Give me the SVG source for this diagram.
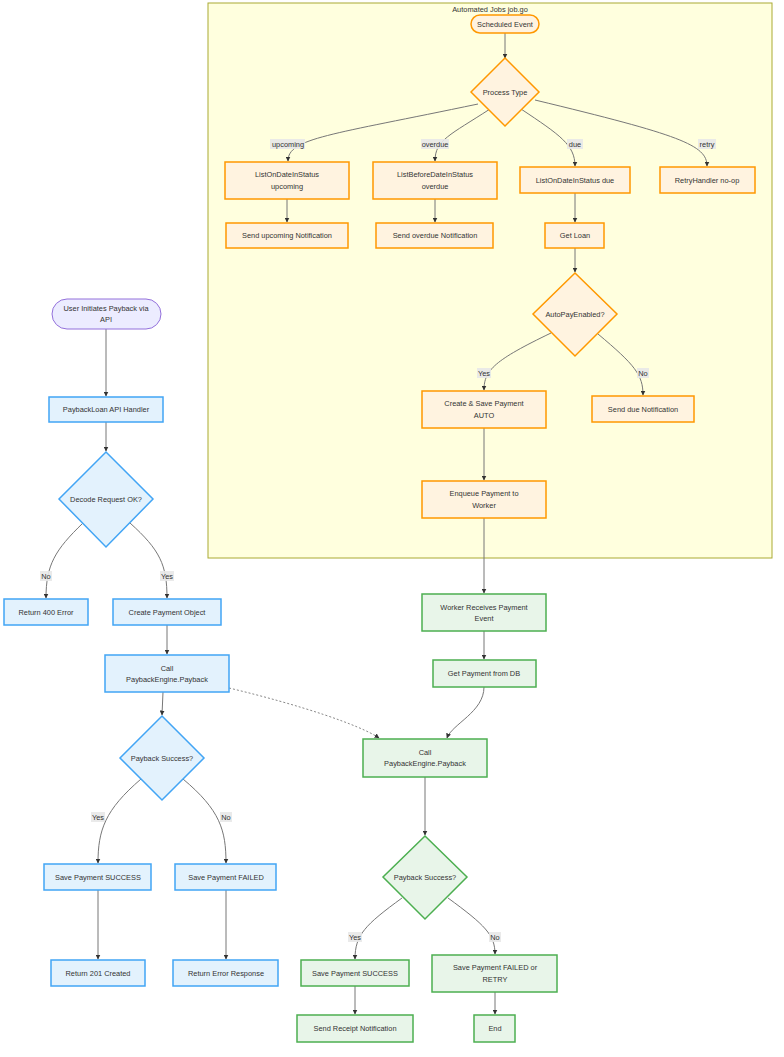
<svg xmlns="http://www.w3.org/2000/svg" width="784" height="1057" viewBox="0 0 784 1057">
<defs>
<marker id="arr" viewBox="0 0 10 10" refX="9" refY="5" markerWidth="5" markerHeight="5" markerUnits="userSpaceOnUse" orient="auto">
<path d="M0,0 L10,5 L0,10 z" fill="#333"/>
</marker>
<style>
text{font-family:"Liberation Sans",Arial,sans-serif;font-size:7.4px;fill:#333;text-anchor:middle;dominant-baseline:central}
.o{fill:#FFF3E0;stroke:#FF9800;stroke-width:1.5}
.b{fill:#E3F2FD;stroke:#42A5F5;stroke-width:1.5}
.g{fill:#E8F5E9;stroke:#4CAF50;stroke-width:1.5}
.p{fill:#ECECFF;stroke:#9370DB;stroke-width:1}
.e{fill:none;stroke:#777;stroke-width:1;marker-end:url(#arr)}
.d{fill:none;stroke:#888;stroke-width:1;stroke-dasharray:2,2;marker-end:url(#arr)}
.lb{fill:#e8e8e8;opacity:0.9}
</style>
</defs>
<rect width="784" height="1057" fill="#ffffff"/>
<g id="cluster">
<rect x="208" y="3" width="564" height="555" fill="#ffffde" stroke="#aaaa33" stroke-width="1"/>
<text x="490" y="9.5">Automated Jobs job.go</text>
</g>
<g id="connectors">
<path class="e" d="M505,33 L505,58"/>
<path class="e" d="M478,104 C330,135 288,138 288,161"/>
<path class="e" d="M490,109 C450,135 435,140 435,161"/>
<path class="e" d="M521,109 C560,135 575,145 575,166"/>
<path class="e" d="M535,100 C680,135 707,145 707,166"/>
<path class="e" d="M287,199 L287,222"/>
<path class="e" d="M435,199 L435,222"/>
<path class="e" d="M575,193 L575,222"/>
<path class="e" d="M575,248 L575,272"/>
<path class="e" d="M551,333 C495,360 484,370 484,390"/>
<path class="e" d="M598,334 C635,365 643,375 643,395"/>
<path class="e" d="M484,428 L484,480"/>
<path class="e" d="M484,518 L484,593"/>
<path class="e" d="M484,631 L484,659"/>
<path class="e" d="M484,687 C484,712 452,724 447,738"/>
<path class="d" d="M229,688 C300,705 360,725 379,738"/>
<path class="e" d="M425,777 L425,835"/>
<path class="e" d="M402,898 C365,925 355,935 355,959"/>
<path class="e" d="M448,898 C485,925 495,935 495,954"/>
<path class="e" d="M355,986 L355,1014"/>
<path class="e" d="M495,992 L495,1014"/>
<path class="e" d="M106,329 L106,396"/>
<path class="e" d="M106,422 L106,451"/>
<path class="e" d="M83,523 C55,550 46,565 46,598"/>
<path class="e" d="M130,523 C160,550 167,565 167,598"/>
<path class="e" d="M167,625 L167,654"/>
<path class="e" d="M163,692 L162,715"/>
<path class="e" d="M141,779 C105,810 98,830 98,863"/>
<path class="e" d="M183,779 C220,810 226,830 226,863"/>
<path class="e" d="M98,890 L98,959"/>
<path class="e" d="M226,890 L226,959"/>
</g>
<g id="edge-labels">
<rect class="lb" x="270" y="139" width="35" height="10"/><text x="288" y="144">upcoming</text>
<rect class="lb" x="421" y="139" width="28" height="10"/><text x="435" y="144">overdue</text>
<rect class="lb" x="567" y="139" width="16" height="10"/><text x="575" y="144">due</text>
<rect class="lb" x="698" y="139" width="18" height="10"/><text x="707" y="144">retry</text>
<rect class="lb" x="477" y="368" width="14" height="10"/><text x="484" y="373">Yes</text>
<rect class="lb" x="637" y="368" width="12" height="10"/><text x="643" y="373">No</text>
<rect class="lb" x="40" y="571" width="12" height="10"/><text x="46" y="576">No</text>
<rect class="lb" x="160" y="571" width="14" height="10"/><text x="167" y="576">Yes</text>
<rect class="lb" x="91" y="812" width="14" height="10"/><text x="98" y="817">Yes</text>
<rect class="lb" x="220" y="812" width="12" height="10"/><text x="226" y="817">No</text>
<rect class="lb" x="348" y="932" width="14" height="10"/><text x="355" y="937">Yes</text>
<rect class="lb" x="489" y="932" width="12" height="10"/><text x="495" y="937">No</text>
</g>
<g id="n-scheduled"><rect class="o" x="471" y="15" width="68" height="18" rx="9"/><text x="505" y="24">Scheduled Event</text></g>
<g id="n-processtype"><polygon class="o" points="505,58 539,92 505,126 471,92"/><text x="505" y="92">Process Type</text></g>
<g id="n-upcoming"><rect class="o" x="225" y="162" width="124" height="37"/><text x="287" y="174">ListOnDateInStatus</text><text x="287" y="186">upcoming</text></g>
<g id="n-sendupcoming"><rect class="o" x="226" y="223" width="122" height="25"/><text x="287" y="235.5">Send upcoming Notification</text></g>
<g id="n-overdue"><rect class="o" x="373" y="162" width="124" height="37"/><text x="435" y="174">ListBeforeDateInStatus</text><text x="435" y="186">overdue</text></g>
<g id="n-sendoverdue"><rect class="o" x="376" y="223" width="117" height="25"/><text x="435" y="235.5">Send overdue Notification</text></g>
<g id="n-due"><rect class="o" x="520" y="167" width="110" height="26"/><text x="575" y="180">ListOnDateInStatus due</text></g>
<g id="n-retry"><rect class="o" x="660" y="167" width="95" height="26"/><text x="707" y="180">RetryHandler no-op</text></g>
<g id="n-getloan"><rect class="o" x="545" y="223" width="59" height="25"/><text x="575" y="235.5">Get Loan</text></g>
<g id="n-autopay"><polygon class="o" points="575,273 617,314 575,356 533,314"/><text x="575" y="314">AutoPayEnabled?</text></g>
<g id="n-createauto"><rect class="o" x="422" y="391" width="124" height="37"/><text x="484" y="403">Create &amp; Save Payment</text><text x="484" y="415">AUTO</text></g>
<g id="n-senddue"><rect class="o" x="592" y="396" width="102" height="26"/><text x="643" y="409">Send due Notification</text></g>
<g id="n-enqueue"><rect class="o" x="422" y="481" width="124" height="37"/><text x="484" y="493">Enqueue Payment to</text><text x="484" y="505">Worker</text></g>
<g id="n-user"><rect class="p" x="52" y="299" width="109" height="30" rx="15"/><text x="106" y="308">User Initiates Payback via</text><text x="106" y="319.5">API</text></g>
<g id="n-handler"><rect class="b" x="49" y="397" width="114" height="25"/><text x="106" y="409.5">PaybackLoan API Handler</text></g>
<g id="n-decode"><polygon class="b" points="106,452 153,499 106,547 59,499"/><text x="106" y="499">Decode Request OK?</text></g>
<g id="n-ret400"><rect class="b" x="4" y="599" width="84" height="26"/><text x="46" y="612">Return 400 Error</text></g>
<g id="n-createobj"><rect class="b" x="113" y="599" width="108" height="26"/><text x="167" y="612">Create Payment Object</text></g>
<g id="n-callleft"><rect class="b" x="105" y="655" width="124" height="37"/><text x="167" y="668">Call</text><text x="167" y="679">PaybackEngine.Payback</text></g>
<g id="n-successleft"><polygon class="b" points="162,716 204,758 162,800 120,758"/><text x="162" y="758">Payback Success?</text></g>
<g id="n-saveokleft"><rect class="b" x="44" y="864" width="107" height="26"/><text x="98" y="877">Save Payment SUCCESS</text></g>
<g id="n-savefailleft"><rect class="b" x="175" y="864" width="101" height="26"/><text x="226" y="877">Save Payment FAILED</text></g>
<g id="n-ret201"><rect class="b" x="51" y="960" width="94" height="26"/><text x="98" y="973">Return 201 Created</text></g>
<g id="n-reterr"><rect class="b" x="173" y="960" width="105" height="26"/><text x="226" y="973">Return Error Response</text></g>
<g id="n-worker"><rect class="g" x="422" y="594" width="124" height="37"/><text x="484" y="607">Worker Receives Payment</text><text x="484" y="618">Event</text></g>
<g id="n-getpay"><rect class="g" x="433" y="660" width="103" height="27"/><text x="484" y="673.5">Get Payment from DB</text></g>
<g id="n-callgreen"><rect class="g" x="363" y="739" width="124" height="38"/><text x="425" y="752">Call</text><text x="425" y="763">PaybackEngine.Payback</text></g>
<g id="n-successgreen"><polygon class="g" points="425,836 467,877 425,919 383,877"/><text x="425" y="877">Payback Success?</text></g>
<g id="n-saveokgreen"><rect class="g" x="301" y="960" width="108" height="26"/><text x="355" y="973">Save Payment SUCCESS</text></g>
<g id="n-savefailgreen"><rect class="g" x="432" y="955" width="125" height="37"/><text x="495" y="967">Save Payment FAILED or</text><text x="495" y="979">RETRY</text></g>
<g id="n-receipt"><rect class="g" x="297" y="1015" width="116" height="27"/><text x="355" y="1028.5">Send Receipt Notification</text></g>
<g id="n-end"><rect class="g" x="474" y="1015" width="41" height="27"/><text x="495" y="1028.5">End</text></g>
</svg>
